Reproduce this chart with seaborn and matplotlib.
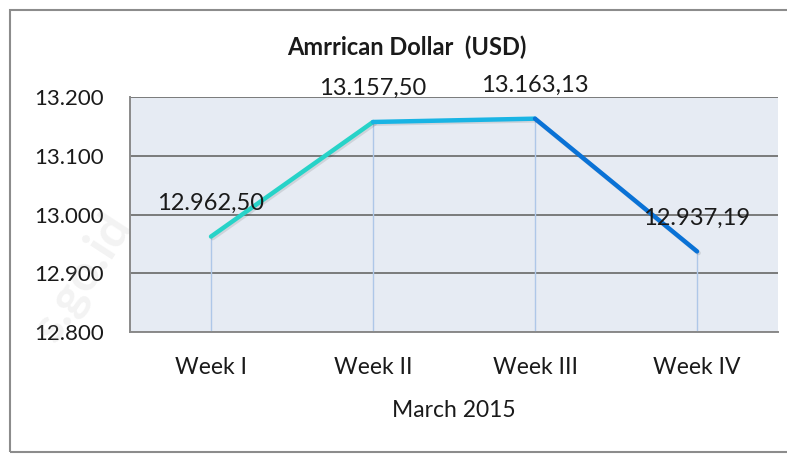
import matplotlib
matplotlib.use("Agg")

import numpy as np
import pandas as pd
import matplotlib.pyplot as plt
import matplotlib.patheffects as pe
from matplotlib.patches import Rectangle
import seaborn as sns

# data
weeks = ["Week I", "Week II", "Week III", "Week IV"]
usd = [12962.50, 13157.50, 13163.13, 12937.19]
y_ticks = [12800, 12900, 13000, 13100, 13200]
seg_colors = ["#27d3c8", "#19b4e4", "#0a72d6"]


def fmt_id(v, dec):
    # indonesian number format: dot thousands, comma decimals
    s = f"{v:,.{dec}f}"
    return s.replace(",", "#").replace(".", ",").replace("#", ".")


# long table, one pair of rows for every line segment
rows = []
for i in range(len(weeks) - 1):
    rows.append({"week": weeks[i], "usd": usd[i], "seg": i})
    rows.append({"week": weeks[i + 1], "usd": usd[i + 1], "seg": i})
df = pd.DataFrame(rows)

sns.set_style("white")
plt.rcParams["font.family"] = ["Lato", "DejaVu Sans"]

fig = plt.figure(figsize=(7.87, 4.55), dpi=100)
ax = fig.add_axes([0.1652, 0.2703, 0.8234, 0.5165])
ax.set_facecolor("#e6ebf3")

ax.vlines(weeks, y_ticks[0], usd, color="#aec7e8", lw=1.0, zorder=1)

sns.lineplot(data=df, x="week", y="usd", hue="seg", palette=seg_colors,
             legend=False, lw=3.2, ax=ax, zorder=3,
             path_effects=[pe.SimpleLineShadow(offset=(1.2, -1.2), alpha=0.1),
                           pe.Normal()])

for w, v in zip(weeks, usd):
    ax.annotate(fmt_id(v, 2), (w, v), xytext=(0, 24), textcoords="offset points",
                ha="center", va="center", fontsize=17, color="#1a1a1a",
                annotation_clip=False, zorder=5)

ax.set_xlim(-0.5, 3.5)
ax.set_ylim(y_ticks[0], y_ticks[-1])
ax.set_yticks(y_ticks)
ax.set_yticklabels([fmt_id(t, 0) for t in y_ticks])
ax.yaxis.grid(True, color="#7a7a7a", lw=1.4)
ax.set_axisbelow(True)

ax.tick_params(axis="y", length=0, pad=19, labelsize=16, labelcolor="#1a1a1a")
ax.tick_params(axis="x", length=0, pad=18, labelsize=16.5, labelcolor="#1a1a1a")

for side in ["top", "right"]:
    ax.spines[side].set_visible(False)
for side in ["left", "bottom"]:
    ax.spines[side].set_color("#8a8a8a")
    ax.spines[side].set_linewidth(1.4)

ax.set_xlabel("March 2015", fontsize=16.5, color="#1a1a1a", labelpad=16)
ax.set_ylabel("")

fig.text(0.517, 0.897, "Amrrican Dollar  (USD)", ha="center", va="center",
         fontsize=17, fontweight="bold", color="#1a1a1a")

# outer chart border
fig.patches.append(Rectangle((0.0127, 0.0066), 1.0, 0.9714, transform=fig.transFigure,
                             fill=False, edgecolor="#8c8c8c", lw=1.5))

# faint watermark
fig.text(0.105, 0.39, "s.go.id", rotation=57, ha="center", va="center",
         fontsize=36, fontweight="bold", color="#9a9a9a", alpha=0.12, zorder=10)

fig.savefig("out.png", dpi=100)
